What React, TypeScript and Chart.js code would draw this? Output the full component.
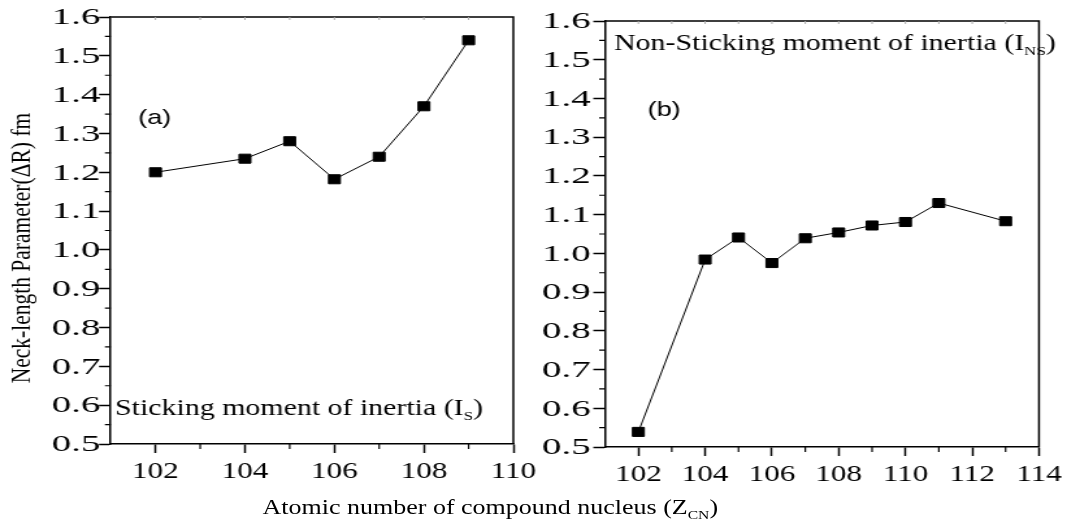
import React, { useEffect, useRef } from "react";
import { Chart, registerables } from "chart.js";

Chart.register(...registerables);

// ---- data ----
const zA = [102, 104, 105, 106, 107, 108, 109];
const dRA = [1.2, 1.235, 1.28, 1.182, 1.24, 1.37, 1.54];

const zB = [102, 104, 105, 106, 107, 108, 109, 110, 111, 113];
const dRB = [0.539, 0.984, 1.041, 0.975, 1.039, 1.054, 1.072, 1.081, 1.13, 1.083];

const xTicksA = [102, 104, 106, 108, 110];
const xMinorA = [103, 105, 107, 109];
const xTicksB = [102, 104, 106, 108, 110, 112, 114];
const xMinorB = [103, 105, 107, 109, 111, 113];

const yTicks = [0.5, 0.6, 0.7, 0.8, 0.9, 1.0, 1.1, 1.2, 1.3, 1.4, 1.5, 1.6];
const yTickLabels = ["0.5", "0.6", "0.7", "0.8", "0.9", "1.0", "1.1", "1.2", "1.3", "1.4", "1.5", "1.6"];
const yMinor = [0.55, 0.65, 0.75, 0.85, 0.95, 1.05, 1.15, 1.25, 1.35, 1.45, 1.55];

const Y_TITLE = "Neck-length Parameter(\u0394R) fm";
const X_TITLE = "Atomic number of compound nucleus (Z";
const X_TITLE_SUB = "CN";
const LABEL_A = "(a)";
const LABEL_B = "(b)";
const NOTE_A = ["Sticking moment of inertia (I", "S", ")"];
const NOTE_B = ["Non-Sticking moment of inertia (I", "NS", ")"];

// ---- layout (pre-stretch coordinates) ----
const W = 821;
const STRETCH = 1067 / W;
const SERIF = '"Liberation Serif", "Times New Roman", serif';
const SANS = '"Liberation Sans", Arial, sans-serif';

function drawSub(ctx: CanvasRenderingContext2D, x: number, yb: number, parts: string[], size: number, subSize: number, drop: number) {
  ctx.textAlign = "left";
  ctx.textBaseline = "alphabetic";
  ctx.font = `${size}px ${SERIF}`;
  ctx.fillText(parts[0], x, yb);
  let cx = x + ctx.measureText(parts[0]).width;
  ctx.font = `${subSize}px ${SERIF}`;
  ctx.fillText(parts[1], cx, yb + drop);
  cx += ctx.measureText(parts[1]).width;
  ctx.font = `${size}px ${SERIF}`;
  ctx.fillText(parts[2], cx, yb);
}

function panelPlugin(p: any) {
  return {
    id: "panel",
    afterDraw(chart: any) {
      const { ctx, chartArea: a } = chart;
      const xs = chart.scales.x;
      const ys = chart.scales.y;
      ctx.save();
      // frame top & right
      ctx.strokeStyle = "#000";
      ctx.lineWidth = 1.5;
      ctx.beginPath();
      ctx.moveTo(a.left, a.top);
      ctx.lineTo(a.right, a.top);
      ctx.lineTo(a.right, a.bottom);
      ctx.stroke();
      // minor ticks
      ctx.lineWidth = 1.2;
      ctx.beginPath();
      for (const v of p.xMinor) {
        const px = xs.getPixelForValue(v);
        ctx.moveTo(px, a.bottom);
        ctx.lineTo(px, a.bottom + 5);
      }
      for (const v of yMinor) {
        const py = ys.getPixelForValue(v);
        ctx.moveTo(a.left, py);
        ctx.lineTo(a.left - 4.5, py);
      }
      ctx.stroke();
      // faint inward ticks on top edge
      ctx.strokeStyle = "#aaa";
      ctx.lineWidth = 1;
      ctx.beginPath();
      for (const v of [...p.xTicks, ...p.xMinor]) {
        if (v >= p.xMax) continue;
        const px = xs.getPixelForValue(v);
        ctx.moveTo(px, a.top);
        ctx.lineTo(px, a.top + 3);
      }
      ctx.stroke();
      // y tick labels (positioned by the y scale)
      ctx.fillStyle = "#000";
      ctx.font = `24px ${SERIF}`;
      ctx.textAlign = "right";
      ctx.textBaseline = "middle";
      yTicks.forEach((v, i) => {
        ctx.save();
        ctx.translate(a.left - p.yLabGap, ys.getPixelForValue(v) + 1);
        ctx.scale(1.25, 1);
        ctx.fillText(yTickLabels[i], 0, 0);
        ctx.restore();
      });
      // y title
      if (p.yTitle) {
        ctx.save();
        ctx.translate(17, 248);
        ctx.rotate(-Math.PI / 2);
        ctx.font = `21.5px ${SERIF}`;
        ctx.textAlign = "center";
        ctx.textBaseline = "middle";
        ctx.fillText(p.yTitle, 0, 0);
        ctx.restore();
      }
      // panel letter
      ctx.font = `21px ${SANS}`;
      ctx.textAlign = "center";
      ctx.textBaseline = "middle";
      ctx.fillText(p.letter, p.letterX, p.letterY);
      // note
      drawSub(ctx, p.noteX, p.noteY, p.note, 23, 13, 5);
      ctx.restore();
    },
  };
}

function makeChart(canvas: HTMLCanvasElement, p: any) {
  return new Chart(canvas, {
    type: "scatter",
    data: {
      datasets: [
        {
          data: p.xs.map((x: number, i: number) => ({ x, y: p.ys[i] })),
          showLine: true,
          borderColor: "#000",
          borderWidth: 1,
          pointStyle: "rect",
          pointRadius: 6.4,
          pointBackgroundColor: "#000",
          pointBorderColor: "#000",
          pointBorderWidth: 1,
        },
      ],
    },
    options: {
      responsive: false,
      animation: false,
      devicePixelRatio: 1,
      events: [],
      layout: { padding: { left: 0, right: p.padR, top: p.top, bottom: p.padB } },
      plugins: { legend: { display: false }, tooltip: { enabled: false } },
      scales: {
        x: {
          type: "linear",
          min: p.xMin,
          max: p.xMax,
          afterBuildTicks: (s: any) => {
            s.ticks = p.xTicks.map((v: number) => ({ value: v }));
          },
          afterFit: (s: any) => {
            s.height = 50;
          },
          grid: { drawOnChartArea: false, drawTicks: true, tickLength: 9, tickWidth: 1.5, tickColor: "#000" },
          border: { display: true, color: "#000", width: 1.5 },
          ticks: {
            color: "#000",
            font: { family: SERIF, size: 24 },
            padding: 4,
            maxRotation: 0,
            autoSkip: false,
            callback: (v: any) => String(v),
          },
        },
        y: {
          type: "linear",
          min: 0.5,
          max: 1.6,
          afterBuildTicks: (s: any) => {
            s.ticks = yTicks.map((v) => ({ value: v }));
          },
          afterFit: (s: any) => {
            s.width = p.yW;
          },
          grid: { drawOnChartArea: false, drawTicks: true, tickLength: 9, tickWidth: 1.5, tickColor: "#000" },
          border: { display: true, color: "#000", width: 1.5 },
          ticks: { display: false },
        },
      },
    } as any,
    plugins: [panelPlugin(p)],
  });
}

export default function App() {
  const refA = useRef<HTMLCanvasElement>(null);
  const refB = useRef<HTMLCanvasElement>(null);

  useEffect(() => {
    const a = makeChart(refA.current!, {
      xs: zA,
      ys: dRA,
      xMin: 101,
      xMax: 110,
      xTicks: xTicksA,
      xMinor: xMinorA,
      yW: 85.2,
      padR: 23,
      top: 17,
      padB: 32,
      yLabGap: 8,
      yTitle: Y_TITLE,
      letter: LABEL_A,
      letterX: 119,
      letterY: 118,
      note: NOTE_A,
      noteX: 88.5,
      noteY: 415,
    });
    const b = makeChart(refB.current!, {
      xs: zB,
      ys: dRB,
      xMin: 101,
      xMax: 114,
      xTicks: xTicksB,
      xMinor: xMinorB,
      yW: 47.5,
      padR: 20,
      top: 21,
      padB: 29,
      yLabGap: 11,
      yTitle: null,
      letter: LABEL_B,
      letterX: 93,
      letterY: 110,
      note: NOTE_B,
      noteX: 54.5,
      noteY: 50,
    });
    return () => {
      a.destroy();
      b.destroy();
    };
  }, []);

  return (
    <div style={{ position: "absolute", left: 0, top: 0, width: 1067, height: 526, overflow: "hidden", background: "#fff" }}>
      <div
        style={{
          position: "absolute",
          left: 0,
          top: 0,
          width: W,
          height: 526,
          transform: `scaleX(${STRETCH})`,
          transformOrigin: "0 0",
        }}
      >
        <canvas ref={refA} width={418} height={526} style={{ position: "absolute", left: 0, top: 0 }} />
        <canvas ref={refB} width={403} height={526} style={{ position: "absolute", left: 418, top: 0 }} />
        <div
          style={{
            position: "absolute",
            left: 202,
            top: 497,
            fontFamily: SERIF,
            fontSize: 20,
            lineHeight: "20px",
            whiteSpace: "nowrap",
            color: "#000",
          }}
        >
          {X_TITLE}
          <span style={{ fontSize: 12, verticalAlign: "-5px", lineHeight: 0 }}>{X_TITLE_SUB}</span>)
        </div>
      </div>
    </div>
  );
}
